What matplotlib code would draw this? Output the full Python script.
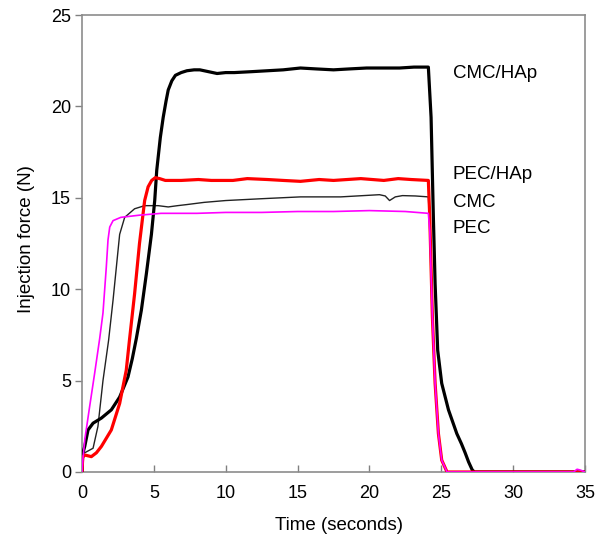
import matplotlib
matplotlib.use("Agg")
import matplotlib.pyplot as plt

# ---- data ----
t_cmc_hap = [0.0, 0.05, 0.19, 0.42, 0.77, 1.35, 2.04, 2.62, 3.2, 3.5, 3.78, 4.13, 4.48, 4.83, 5.06, 5.2, 5.45, 5.65, 5.85, 6.0, 6.25, 6.5, 6.9, 7.3, 7.8, 8.2, 8.8, 9.4, 10.0, 10.6, 11.8, 12.9, 14.0, 15.2, 16.3, 17.5, 18.6, 19.8, 21.0, 22.1, 23.1, 24.1, 24.29, 24.45, 24.57, 24.75, 25.03, 25.5, 26.08, 26.4, 26.66, 26.9, 27.15, 27.3, 35.0]
f_cmc_hap = [0.0, 1.0, 1.4, 2.3, 2.67, 2.95, 3.4, 4.1, 5.2, 6.2, 7.3, 8.85, 10.85, 13.0, 14.85, 16.5, 18.3, 19.4, 20.3, 20.9, 21.4, 21.7, 21.85, 21.95, 22.0, 22.0, 21.9, 21.8, 21.85, 21.85, 21.9, 21.95, 22.0, 22.1, 22.05, 22.0, 22.05, 22.1, 22.1, 22.1, 22.15, 22.15, 19.4, 13.9, 10.3, 6.66, 4.85, 3.4, 2.1, 1.55, 1.05, 0.55, 0.12, 0.0, 0.0]

t_pec_hap = [0.0, 0.05, 0.19, 0.65, 1.0, 1.35, 2.04, 2.62, 3.08, 3.3, 3.66, 4.0, 4.36, 4.6, 4.85, 5.1, 5.4, 5.8, 6.9, 8.1, 9.0, 10.5, 11.5, 12.9, 14.0, 15.2, 16.5, 17.5, 19.4, 21.0, 22.0, 22.9, 24.1, 24.2, 24.38, 24.57, 24.8, 25.03, 25.4, 35.0]
f_pec_hap = [0.0, 0.8, 0.93, 0.84, 1.05, 1.4, 2.3, 3.75, 5.57, 7.2, 9.75, 12.5, 14.85, 15.6, 15.95, 16.1, 16.05, 15.95, 15.95, 16.0, 15.95, 15.95, 16.05, 16.0, 15.95, 15.9, 16.0, 15.95, 16.05, 15.95, 16.05, 16.0, 15.95, 13.9, 8.5, 4.85, 2.1, 0.65, 0.0, 0.0]

t_cmc = [0.0, 0.05, 0.3, 0.77, 1.11, 1.46, 1.85, 2.16, 2.39, 2.62, 2.97, 3.66, 4.36, 5.3, 6.0, 6.65, 7.3, 8.5, 10.0, 12.5, 15.2, 18.0, 20.7, 21.1, 21.4, 21.8, 22.3, 23.2, 24.1, 24.2, 24.38, 24.57, 24.8, 25.03, 25.4, 35.0]
f_cmc = [0.0, 1.0, 1.1, 1.3, 2.5, 5.0, 7.2, 9.4, 11.2, 13.0, 13.93, 14.4, 14.57, 14.57, 14.5, 14.57, 14.63, 14.75, 14.85, 14.95, 15.05, 15.05, 15.17, 15.1, 14.85, 15.05, 15.12, 15.1, 15.05, 13.4, 8.5, 4.85, 2.1, 0.65, 0.0, 0.0]

t_pec = [0.0, 0.05, 0.19, 0.53, 0.88, 1.23, 1.46, 1.69, 1.81, 1.93, 2.16, 2.7, 4.0, 5.5, 8.0, 10.0, 12.5, 15.0, 17.5, 20.0, 22.5, 24.1, 24.2, 24.38, 24.57, 24.8, 25.03, 25.4, 34.2, 34.45, 34.7, 35.0]
f_pec = [0.0, 0.6, 1.75, 3.57, 5.4, 7.3, 8.7, 11.2, 12.7, 13.4, 13.75, 13.93, 14.05, 14.15, 14.15, 14.2, 14.2, 14.25, 14.25, 14.3, 14.25, 14.15, 13.2, 8.5, 4.85, 2.1, 0.65, 0.0, 0.0, 0.15, 0.1, 0.0]

labels = ["CMC/HAp", "PEC/HAp", "CMC", "PEC"]
label_y = [21.8, 16.3, 14.75, 13.3]
x_ticks = [0, 5, 10, 15, 20, 25, 30, 35]
y_ticks = [0, 5, 10, 15, 20, 25]

plt.rcParams['font.family'] = ['Liberation Sans', 'DejaVu Sans']

fig = plt.figure(figsize=(6.06, 5.38), dpi=100)
ax = fig.add_axes([82/606, 1-472/538, 503/606, 457/538])

ax.plot(t_cmc_hap, f_cmc_hap, color='black', lw=2.3, solid_joinstyle='round', zorder=3)
ax.plot(t_cmc, f_cmc, color='#222222', lw=1.0, zorder=2)
ax.plot(t_pec_hap, f_pec_hap, color='#ff0000', lw=2.3, solid_joinstyle='round', zorder=4)
ax.plot(t_pec, f_pec, color='#ff00ff', lw=1.2, zorder=5)

for lab, yy in zip(labels, label_y):
    ax.text(25.8, yy, lab, fontsize=13.5, va='center', ha='left')

ax.set_xlim(0, 35)
ax.set_ylim(0, 25)
ax.set_xticks(x_ticks)
ax.set_yticks(y_ticks)
ax.tick_params(axis='x', direction='in', length=5, width=1, color='#808080', labelsize=13, pad=9)
ax.tick_params(axis='y', direction='out', length=5, width=1, color='#808080', labelsize=13, pad=3)
for s in ax.spines.values():
    s.set_color('#8c8c8c')
    s.set_linewidth(1.2)

ax.set_xlabel("Time (seconds)", fontsize=13.5)
ax.set_ylabel("Injection force (N)", fontsize=13.5)
ax.xaxis.set_label_coords(0.51, -0.098)
ax.yaxis.set_label_coords(-0.093, 0.51)

fig.savefig("out.png", dpi=100)
